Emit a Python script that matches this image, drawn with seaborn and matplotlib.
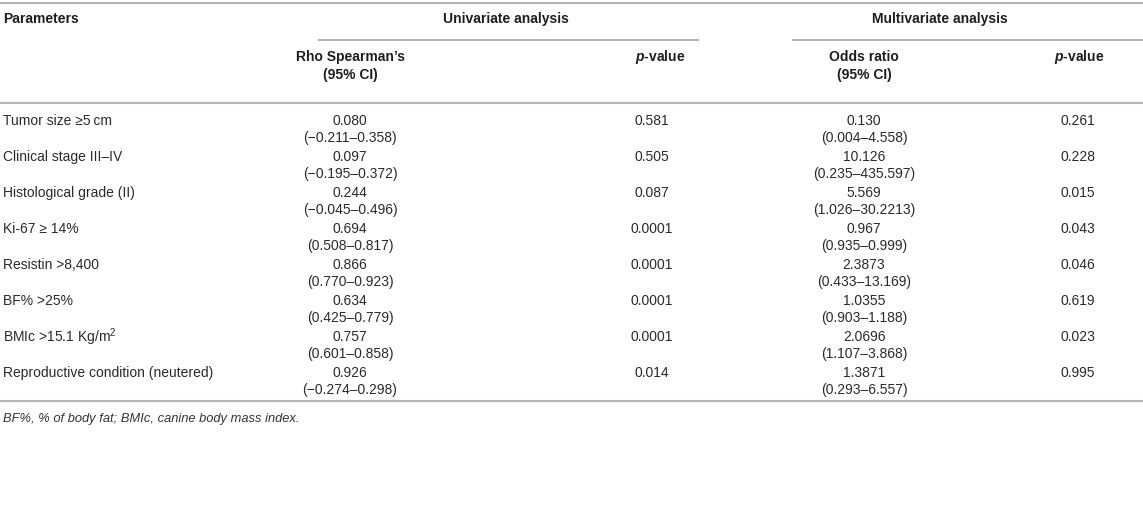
import numpy as np
import pandas as pd
import matplotlib.pyplot as plt
import seaborn as sns

# Table values
parameters = [
    "Tumor size \u22655\u2009cm",
    "Clinical stage III\u2013IV",
    "Histological grade (II)",
    "Ki-67 \u2265 14%",
    "Resistin >8,400",
    "BF% >25%",
    "BMIc >15.1 Kg/m$^{2}$",
    "Reproductive condition (neutered)",
]
rho = ["0.080", "0.097", "0.244", "0.694", "0.866", "0.634", "0.757", "0.926"]
rho_ci = ["(\u22120.211\u20130.358)", "(\u22120.195\u20130.372)", "(\u22120.045\u20130.496)",
          "(0.508\u20130.817)", "(0.770\u20130.923)", "(0.425\u20130.779)",
          "(0.601\u20130.858)", "(\u22120.274\u20130.298)"]
uni_p = ["0.581", "0.505", "0.087", "0.0001", "0.0001", "0.0001", "0.0001", "0.014"]
odds = ["0.130", "10.126", "5.569", "0.967", "2.3873", "1.0355", "2.0696", "1.3871"]
odds_ci = ["(0.004\u20134.558)", "(0.235\u2013435.597)", "(1.026\u201330.2213)",
           "(0.935\u20130.999)", "(0.433\u201313.169)", "(0.903\u20131.188)",
           "(1.107\u20133.868)", "(0.293\u20136.557)"]
multi_p = ["0.261", "0.228", "0.015", "0.043", "0.046", "0.619", "0.023", "0.995"]
footnote = "BF%, % of body fat; BMIc, canine body mass index."

df = pd.DataFrame({"param": parameters, "rho": rho, "rho_ci": rho_ci, "uni_p": uni_p,
                   "odds": odds, "odds_ci": odds_ci, "multi_p": multi_p})

sns.set_theme(style="white")
plt.rcParams["font.family"] = ["Liberation Sans", "DejaVu Sans"]
plt.rcParams["mathtext.fontset"] = "custom"
plt.rcParams["mathtext.rm"] = "Liberation Sans"
plt.rcParams["mathtext.it"] = "Liberation Sans:italic"
plt.rcParams["mathtext.bf"] = "Liberation Sans:bold"
plt.rcParams["mathtext.bfit"] = "Liberation Sans:italic:bold"

W, H = 1143, 529
fig = plt.figure(figsize=(W / 100, H / 100), dpi=100)
ax = fig.add_axes([0, 0, 1, 1])
ax.set_xlim(0, W)
ax.set_ylim(H, 0)
ax.axis("off")

fs = 10.0
txt = "#1e1e1e"
body_col = "#2a2a2a"
line_col = "#b4b4b4"
lw = 1.5

# column centres
x_param = 3
x_rho, x_up, x_or, x_mp = 350, 652, 864, 1078

# rules
for y in [3, 103, 401]:
    ax.plot([0, W], [y, y], color=line_col, lw=lw, solid_capstyle="butt")
ax.plot([318, 699], [40, 40], color=line_col, lw=lw, solid_capstyle="butt")
ax.plot([792, W], [40, 40], color=line_col, lw=lw, solid_capstyle="butt")

# header
hd = dict(fontsize=fs, fontweight="bold", color=txt, va="center")
ax.text(x_param, 19, "Parameters", ha="left", **hd)
ax.text(506, 19, "Univariate analysis", ha="center", **hd)
ax.text(940, 19, "Multivariate analysis", ha="center", **hd)
ax.text(x_rho, 57, "Rho Spearman\u2019s", ha="center", **hd)
ax.text(x_rho, 75, "(95% CI)", ha="center", **hd)
ax.text(660, 57, r"$\mathbfit{p}$-value", ha="center", **hd)
ax.text(x_or, 57, "Odds ratio", ha="center", **hd)
ax.text(x_or, 75, "(95% CI)", ha="center", **hd)
ax.text(1079, 57, r"$\mathbfit{p}$-value", ha="center", **hd)

# body rows
bd = dict(fontsize=fs, color=body_col, va="center")
for i, row in df.iterrows():
    y0 = 121 + 36 * i
    y1 = y0 + 17
    ax.text(x_param, y0, row["param"], ha="left", **bd)
    ax.text(x_rho, y0, row["rho"], ha="center", **bd)
    ax.text(x_rho, y1, row["rho_ci"], ha="center", **bd)
    ax.text(x_up, y0, row["uni_p"], ha="center", **bd)
    ax.text(x_or, y0, row["odds"], ha="center", **bd)
    ax.text(x_or, y1, row["odds_ci"], ha="center", **bd)
    ax.text(x_mp, y0, row["multi_p"], ha="center", **bd)

ax.text(x_param, 419, footnote, ha="left", style="italic", fontsize=fs * 0.93,
        color="#333333", va="center")

fig.savefig("out.png", dpi=100, facecolor="white")
